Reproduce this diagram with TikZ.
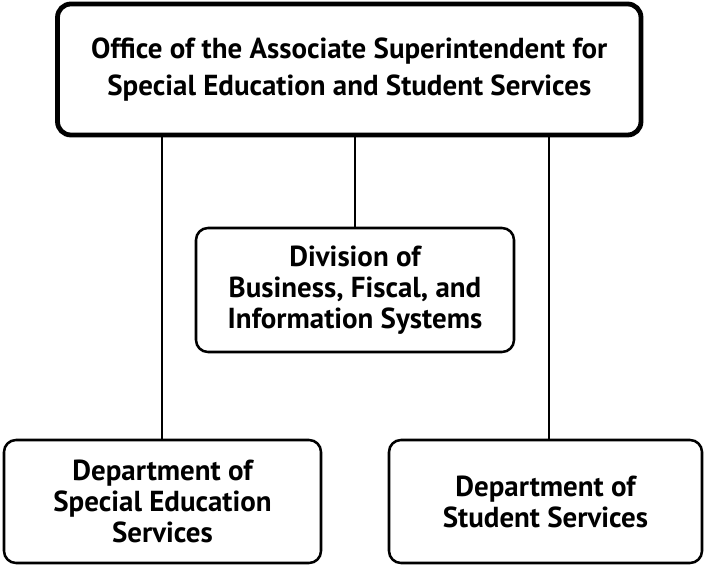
\documentclass[tikz,border=0pt]{standalone}
\usepackage{fontspec}
\setmainfont{PT Sans}
\usetikzlibrary{positioning}

\begin{document}
\begin{tikzpicture}[line cap=round,line join=round,x=0.75pt,y=-0.75pt]
\tikzset{
  orgbox/.style={draw,rounded corners=9pt,line width=1.9pt,align=center,
    font=\bfseries\fontsize{21.7}{23.25}\selectfont,inner sep=0pt},
  headbox/.style={orgbox,line width=3.6pt,rounded corners=10pt,
    font=\bfseries\fontsize{21.7}{27.75}\selectfont},
  orgline/.style={line width=1.3pt}
}
\useasboundingbox (0,0) rectangle (706,566);
\node[headbox,minimum width=437.6pt,minimum height=98.25pt] (osup) at (349.25,69.5)
  {Office of the Associate Superintendent for\\Special Education and Student Services};
\node[orgbox,minimum width=238.5pt,minimum height=93pt] (dbf) at (355,290)
  {Division of\\Business, Fiscal, and\\Information Systems};
\node[orgbox,minimum width=237.75pt,minimum height=92.25pt] (dse) at (162.5,501.5)
  {Department of\\Special Education\\Services};
\node[orgbox,minimum width=234.75pt,minimum height=92.25pt] (dss) at (545.5,501.5)
  {Department of\\Student Services};
\coordinate (lx) at (162,0);
\coordinate (rx) at (549,0);
\draw[orgline] (lx |- osup.south) -- (lx |- dse.north);
\draw[orgline] (dbf.north |- osup.south) -- (dbf.north);
\draw[orgline] (rx |- osup.south) -- (rx |- dss.north);
\end{tikzpicture}
\end{document}
